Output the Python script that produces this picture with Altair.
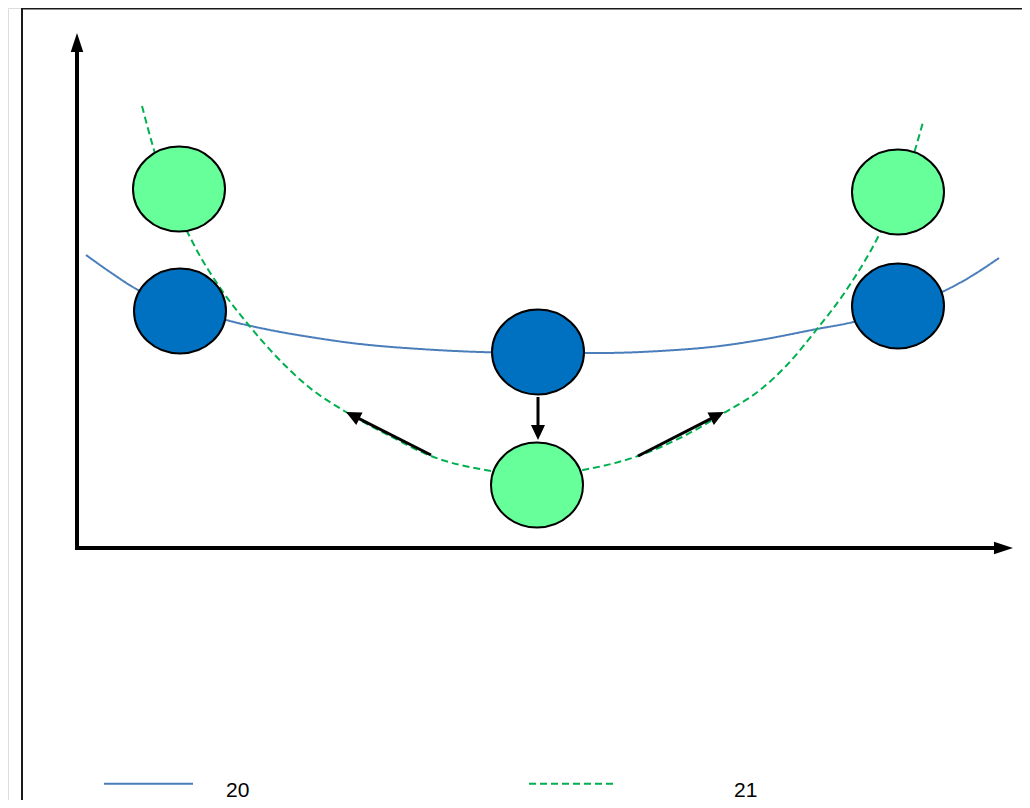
import math
import altair as alt
import pandas as pd

# ---------------- data (diagram units, origin at the axis corner) ----------------
series_names = ["20", "21"]
series_colors = ["#4A7EBB", "#00B050"]

curve20_x = [0.9, 3.3, 6.1, 10.3, 14.9, 19.3, 23.3, 28.3, 34.3, 40.3, 46.1,
             52.3, 58.3, 64.3, 68.3, 74.0, 77.6, 82.3, 86.7, 89.3, 92.2]
curve20_y = [29.3, 27.6, 25.8, 24.2, 22.8, 21.8, 21.1, 20.4, 19.9, 19.6, 19.5,
             19.5, 19.7, 20.2, 20.8, 21.9, 22.6, 24.2, 25.7, 27.1, 29.0]

curve21_x = [6.5, 7.7, 11.6, 14.6, 17.0, 19.6, 23.3, 26.9, 31.3, 35.4, 41.4, 46.0,
             50.6, 56.1, 60.5, 64.7, 68.3, 71.0, 74.0, 76.8, 80.3, 83.8, 84.6]
curve21_y = [44.2, 39.8, 30.5, 25.6, 22.5, 19.5, 16.0, 13.6, 11.2, 9.2, 7.7, 7.2,
             7.8, 9.2, 11.1, 13.5, 15.8, 18.3, 21.9, 25.6, 31.5, 39.8, 42.6]

blue_cx = [10.3, 46.1, 82.1]
blue_cy = [23.7, 19.6, 24.2]
green_cx = [10.2, 46.0, 82.1]
green_cy = [35.9, 6.3, 35.6]

arrow_kind = ["axis", "axis", "step", "step", "step"]
arrow_tail_x = [0.0, -0.2, 46.1, 35.4, 56.1]
arrow_tail_y = [-0.2, 0.0, 15.1, 9.3, 9.2]
arrow_tip_x = [0.0, 93.6, 46.1, 26.9, 64.7]
arrow_tip_y = [51.5, 0.0, 10.8, 13.6, 13.6]

# ---------------- layout / styles ----------------
PX = 10.0  # pixels per diagram unit
W, H = 1014, 792
X_MIN, Y_MIN = -6.9, -25.2
x_scale = alt.Scale(domain=[X_MIN, X_MIN + W / PX], nice=False, zero=False)
y_scale = alt.Scale(domain=[Y_MIN, Y_MIN + H / PX], nice=False, zero=False)
X_MAX, Y_MAX = X_MIN + W / PX, Y_MIN + H / PX

arrow_style = {"axis": dict(L=19, w=12.5, lw=4), "step": dict(L=15, w=14, lw=3)}

FONT = "Liberation Sans"

color_scale = alt.Scale(domain=series_names, range=series_colors)
dash_scale = alt.Scale(domain=series_names, range=[[1, 0], [7, 4]])

# ---------------- tables ----------------
curves = pd.DataFrame(
    [{"series": series_names[0], "i": i, "x": x, "y": y}
     for i, (x, y) in enumerate(zip(curve20_x, curve20_y))]
    + [{"series": series_names[1], "i": i, "x": x, "y": y}
       for i, (x, y) in enumerate(zip(curve21_x, curve21_y))]
)

shaft_rows, head_rows = [], []
for k, tx, ty, px, py in zip(arrow_kind, arrow_tail_x, arrow_tail_y, arrow_tip_x, arrow_tip_y):
    st = arrow_style[k]
    dx, dy = px - tx, py - ty
    ln = math.hypot(dx, dy)
    ux, uy = dx / ln, dy / ln
    L = st["L"] / PX
    bx, by = px - (L - 0.1) * ux, py - (L - 0.1) * uy
    shaft_rows.append({"x": tx, "y": ty, "x2": bx, "y2": by, "sw": st["lw"]})
    cx, cy = px - (L / 2) * ux, py - (L / 2) * uy
    ang = math.degrees(math.atan2(ux, uy)) % 360
    a = st["w"] / st["L"]
    head_rows.append({"x": cx, "y": cy, "angle": ang, "size": st["L"] ** 2,
                      "shape": f"M0,-1L{a:.3f},1L{-a:.3f},1Z"})
shafts = pd.DataFrame(shaft_rows)
heads = pd.DataFrame(head_rows)

circles = pd.DataFrame(
    [{"x": x, "y": y, "kind": "blue"} for x, y in zip(blue_cx, blue_cy)]
    + [{"x": x, "y": y, "kind": "green"} for x, y in zip(green_cx, green_cy)]
)

FRAME_X = -5.5
frame = pd.DataFrame([
    {"x": FRAME_X, "y": Y_MIN, "x2": FRAME_X, "y2": Y_MAX, "sw": 2},
    {"x": FRAME_X - 0.1, "y": Y_MAX, "x2": X_MAX, "y2": Y_MAX, "sw": 3},
])

LEG_Y = -23.57
legend_lines = pd.DataFrame([
    {"series": series_names[0], "x": 2.7, "x2": 11.6, "y": LEG_Y},
    {"series": series_names[1], "x": 45.2, "x2": 54.0, "y": LEG_Y},
])
legend_text = pd.DataFrame([
    {"label": series_names[0], "x": 14.9, "y": -24.9},
    {"label": series_names[1], "x": 65.7, "y": -24.9},
])

# ---------------- marks ----------------
X = lambda f="x": alt.X(f"{f}:Q", scale=x_scale, axis=None)
Y = lambda f="y": alt.Y(f"{f}:Q", scale=y_scale, axis=None)

frame_layer = alt.Chart(frame).mark_rule(color="#1a1a1a").encode(
    x=X(), y=Y(), x2="x2:Q", y2="y2:Q",
    strokeWidth=alt.StrokeWidth("sw:Q", scale=None),
)

curve_layer = alt.Chart(curves).mark_line(interpolate="monotone", strokeWidth=2).encode(
    x=X(), y=Y(),
    color=alt.Color("series:N", scale=color_scale, legend=None),
    strokeDash=alt.StrokeDash("series:N", scale=dash_scale, legend=None),
    order="i:Q",
)

shaft_layer = alt.Chart(shafts).mark_rule(color="black", strokeCap="butt").encode(
    x=X(), y=Y(), x2="x2:Q", y2="y2:Q",
    strokeWidth=alt.StrokeWidth("sw:Q", scale=None),
)

head_layer = alt.Chart(heads).mark_point(filled=True, color="black", opacity=1).encode(
    x=X(), y=Y(),
    shape=alt.Shape("shape:N", scale=None),
    size=alt.Size("size:Q", scale=None),
    angle=alt.Angle("angle:Q", scale=None),
)

ellipse = "M-1,0A1,0.924,0,1,0,1,0A1,0.924,0,1,0,-1,0Z"
circle_layer = alt.Chart(circles).mark_point(
    shape=ellipse, size=92 * 92, filled=True, stroke="black", strokeWidth=2,
    opacity=1, fillOpacity=1, strokeOpacity=1,
).encode(
    x=X(), y=Y(),
    fill=alt.Fill("kind:N", scale=alt.Scale(domain=["blue", "green"],
                                             range=["#0070C0", "#66FF99"]), legend=None),
)

legend_line_layer = alt.Chart(legend_lines).mark_rule(strokeWidth=2).encode(
    x=X(), x2="x2:Q", y=Y(),
    color=alt.Color("series:N", scale=color_scale, legend=None),
    strokeDash=alt.StrokeDash("series:N", scale=dash_scale, legend=None),
)

legend_text_layer = alt.Chart(legend_text).mark_text(
    align="left", baseline="alphabetic", font=FONT, fontSize=21, color="black"
).encode(x=X(), y=Y(), text="label:N")

chart = alt.layer(
    frame_layer, curve_layer, shaft_layer, head_layer, circle_layer,
    legend_line_layer, legend_text_layer,
).resolve_scale(color="independent", strokeDash="independent").properties(
    width=W, height=H, autosize=alt.AutoSizeParams(type="none"), padding=0,
).configure_view(stroke=None).configure(background="white")

chart.save("out.html", embed_options={"renderer": "svg", "actions": False})
